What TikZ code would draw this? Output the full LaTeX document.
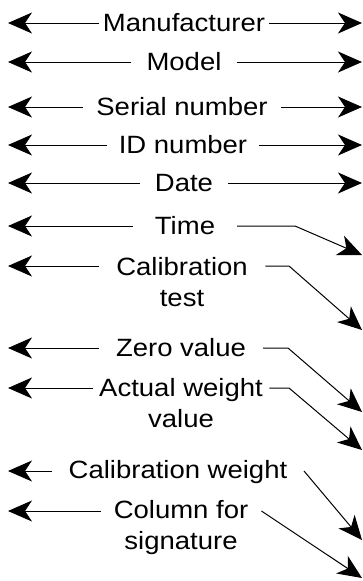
\documentclass[tikz,border=0pt]{standalone}
\usepackage{fontspec}
\setmainfont[FakeStretch=1.1]{Liberation Sans}
\usetikzlibrary{arrows.meta, positioning}

\begin{document}
\begin{tikzpicture}[
  x=1pt, y=-1pt,
  lbl/.style={font=\fontsize{25}{31}\selectfont, align=center, anchor=base, inner ysep=0pt},
  arr/.style={-{Stealth[length=24pt, width=21pt, inset=7pt]}, line width=1pt},
]
\useasboundingbox (0,0) rectangle (363,581);

%% Field labels (base = last line)
\node[lbl, inner xsep=4pt]    (manuf)  at (184,31.5)  {Manufacturer};
\node[lbl, inner xsep=15pt]   (model)  at (184,70.5)  {Model};
\node[lbl, inner xsep=13pt]   (serial) at (182,115.5) {Serial number};
\node[lbl, inner xsep=11.5pt] (idnum)  at (183,153.5) {ID number};
\node[lbl, inner xsep=15pt]   (date)   at (184,191.5) {Date};
\node[lbl, inner xsep=22pt]   (time)   at (185,234.5) {Time};
\node[lbl, inner xsep=17.5pt] (calib)  at (182,306)   {Calibration\\test};
\node[lbl, inner xsep=17pt]   (zero)   at (181,356.5) {Zero value};
\node[lbl, inner xsep=6.5pt]  (actual) at (181,427)   {Actual weight\\value};
\node[lbl, inner xsep=16.5pt] (calw)   at (178,478.5) {Calibration weight};
\node[lbl, inner xsep=13pt]   (column) at (181,549.5) {Column for\\signature};

%% Left ends
\coordinate (manuf-l)  at (8,23);
\coordinate (model-l)  at (8,62);
\coordinate (serial-l) at (8,107);
\coordinate (idnum-l)  at (8,145);
\coordinate (date-l)   at (8,183);
\coordinate (time-l)   at (8,226);
\coordinate (calib-l)  at (8,266);
\coordinate (zero-l)   at (8,348);
\coordinate (actual-l) at (8,388);
\coordinate (calw-l)   at (8,471);
\coordinate (column-l) at (8,511);

%% Right ends and bends
\coordinate (manuf-r)  at (362,23);
\coordinate (model-r)  at (362,62);
\coordinate (serial-r) at (362,107);
\coordinate (idnum-r)  at (362,145);
\coordinate (date-r)   at (362,183);
\coordinate (time-b)   at (295,226);
\coordinate (time-r)   at (362,255);
\coordinate (calib-b)  at (289,266);
\coordinate (calib-r)  at (362,330);
\coordinate (zero-b)   at (288,348);
\coordinate (zero-r)   at (362,412);
\coordinate (actual-b) at (289,388);
\coordinate (actual-r) at (362,450);
\coordinate (calw-r)   at (362,540);
\coordinate (column-r) at (362,578);

%% Left arrows
\draw[arr] (manuf.west |- manuf-l)   -- (manuf-l);
\draw[arr] (model.west |- model-l)   -- (model-l);
\draw[arr] (serial.west |- serial-l) -- (serial-l);
\draw[arr] (idnum.west |- idnum-l)   -- (idnum-l);
\draw[arr] (date.west |- date-l)     -- (date-l);
\draw[arr] (time.west |- time-l)     -- (time-l);
\draw[arr] (calib.west |- calib-l)   -- (calib-l);
\draw[arr] (zero.west |- zero-l)     -- (zero-l);
\draw[arr] (actual.west |- actual-l) -- (actual-l);
\draw[arr] (calw.west |- calw-l)     -- (calw-l);
\draw[arr] (column.west |- column-l) -- (column-l);

%% Right arrows
\draw[arr] (manuf.east |- manuf-r)   -- (manuf-r);
\draw[arr] (model.east |- model-r)   -- (model-r);
\draw[arr] (serial.east |- serial-r) -- (serial-r);
\draw[arr] (idnum.east |- idnum-r)   -- (idnum-r);
\draw[arr] (date.east |- date-r)     -- (date-r);
\draw[arr] (time.east |- time-b)     -- (time-b) -- (time-r);
\draw[arr] (calib.east |- calib-b)   -- (calib-b) -- (calib-r);
\draw[arr] (zero.east |- zero-b)     -- (zero-b) -- (zero-r);
\draw[arr] (actual.east |- actual-b) -- (actual-b) -- (actual-r);
\draw[arr] (calw.east |- calw-l)     -- (calw-r);
\draw[arr] (column.east |- column-l) -- (column-r);
\end{tikzpicture}
\end{document}
